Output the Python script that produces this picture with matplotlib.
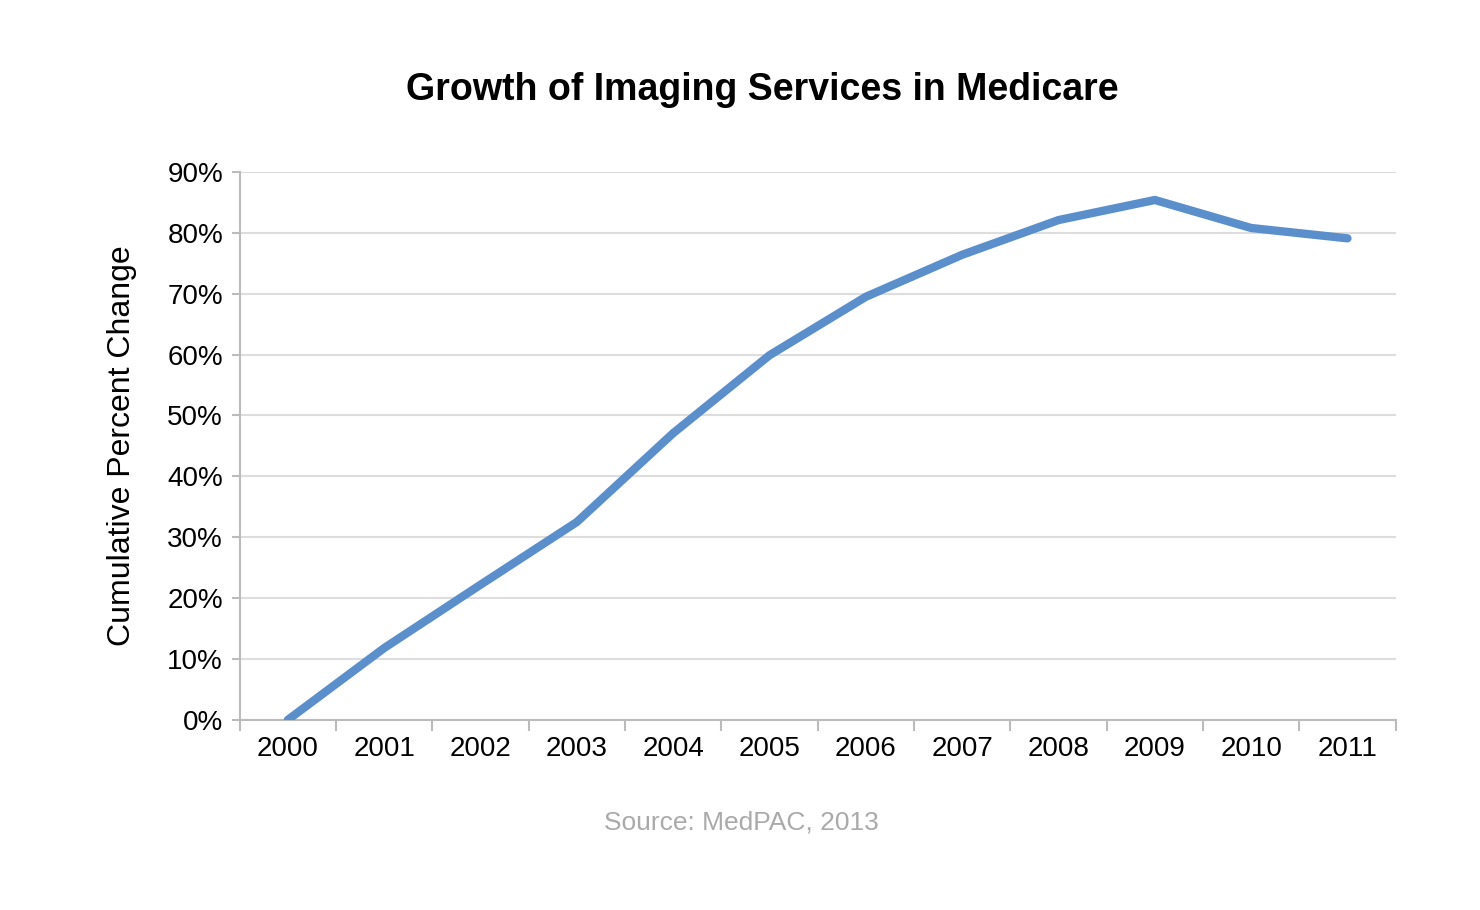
import matplotlib
matplotlib.use("Agg")
import matplotlib.pyplot as plt
from matplotlib.ticker import FixedLocator

years = ["2000","2001","2002","2003","2004","2005","2006","2007","2008","2009","2010","2011"]
values = [0, 11.8, 22.2, 32.5, 47.1, 59.9, 69.5, 76.4, 82.1, 85.4, 80.8, 79.1]
yticks = [0,10,20,30,40,50,60,70,80,90]

plt.rcParams['font.family'] = ['Liberation Sans', 'DejaVu Sans']
fig = plt.figure(figsize=(14.8, 9.1), dpi=100)
ax = fig.add_axes([0.162, 0.209, 0.781, 0.602])
x = list(range(len(years)))
ax.plot(x, values, color="#5b8fcb", lw=6, solid_capstyle="round", solid_joinstyle="round", zorder=3)
ax.set_xlim(-0.5, len(years)-0.5)
ax.set_ylim(0, 90)
ax.set_yticks(yticks)
ax.set_yticklabels([f"{v}%" for v in yticks], fontsize=20)
ax.set_xticks(x)
ax.set_xticklabels(years, fontsize=20)
ax.tick_params(axis='x', length=0, pad=12)
ax.xaxis.set_minor_locator(FixedLocator([i-0.5 for i in range(len(years)+1)]))
ax.tick_params(axis='x', which='minor', length=8, color="#bbbbbb", width=1.5)
ax.tick_params(axis='y', length=6, color="#bbbbbb", width=1.5, pad=6)
ax.grid(axis='y', color="#dddddd", lw=1.5)
ax.set_axisbelow(True)
for s in ['top','right']:
    ax.spines[s].set_visible(False)
for s in ['left','bottom']:
    ax.spines[s].set_color("#bbbbbb")
    ax.spines[s].set_linewidth(1.5)
ax.set_ylabel("Cumulative Percent Change", fontsize=23, labelpad=22)
fig.text(0.515, 0.901, "Growth of Imaging Services in Medicare", ha="center", va="center", fontsize=27, fontweight="bold")
fig.text(0.501, 0.096, "Source: MedPAC, 2013", ha="center", va="center", fontsize=19, color="#aaaaaa")
fig.savefig("out.png")
